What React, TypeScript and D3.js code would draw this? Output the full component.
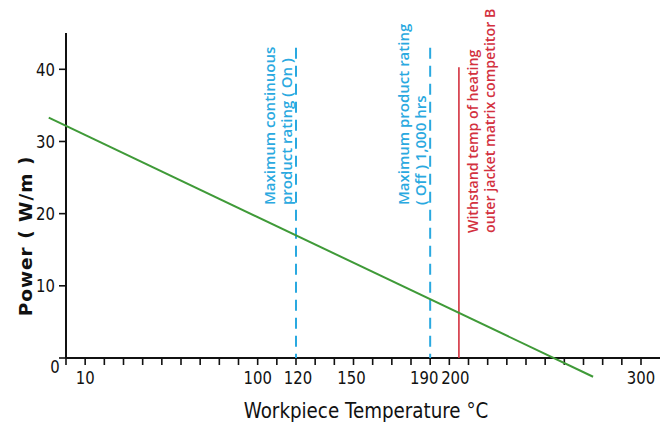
import React from 'react';
import * as d3 from 'd3';

// power curve end points (temperature °C, W/m)
const curveTemps = [-9, 275];
const curvePower = [33.3, -2.6];

const xTickValues = [0, 10, 20, 30, 40, 50, 60, 70, 80, 90, 100, 110, 120, 130, 140, 150, 160, 170, 180, 190, 200, 210, 220, 230, 240, 250, 260, 270, 280, 290, 300];
const xTickLabels = [10, 100, 120, 150, 190, 200, 300];
const yTickValues = [0, 10, 20, 30, 40];

// vertical rating lines
const ratingTemps = [120, 190];
const ratingTop = 43;
const ratingTexts = [
  ['Maximum continuous', 'product rating ( On )'],
  ['Maximum product rating', '( Off ) 1,000 hrs'],
];
const competitorTemp = 205;
const competitorTop = 40.3;
const competitorText = ['Withstand temp of heating', 'outer jacket matrix competitor B'];

const W = 667;
const H = 430;
const BLUE = '#2aa9e0';
const RED = '#d3313f';
const GREEN = '#3f9a38';
const sans = "'DejaVu Sans', sans-serif";
const noteFont = "'Open Sans', 'DejaVu Sans', sans-serif";
const SQ = 0.85; // horizontal squeeze for the condensed look

export default function App() {
  const x = d3.scaleLinear().domain([0, 300]).range([66, 641]);
  const y = d3.scaleLinear().domain([0, 40]).range([358, 69.3]);

  const line = d3.line<number>()
    .x(d => x(curveTemps[d]))
    .y(d => y(curvePower[d]));

  const x0 = x(0);
  const y0 = y(0);

  const labelDx = (v: number) => (v === 200 ? 6 : v === 190 ? -6 : v === 120 ? 2 : v === 150 ? -2 : 0);

  return (
    <svg width={W} height={H} style={{position: 'absolute', left: 0, top: 0, background: '#fff'}}>
      {/* axes */}
      <line x1={x0} x2={660} y1={y0} y2={y0} stroke="#111" strokeWidth={2} />
      <line x1={x0} x2={x0} y1={33} y2={y0} stroke="#111" strokeWidth={2} />
      {xTickValues.map(v => (
        <line key={'xt' + v} x1={x(v)} x2={x(v)} y1={y0} y2={y0 + 7} stroke="#111" strokeWidth={1.6} />
      ))}
      {yTickValues.map(v => (
        <line key={'yt' + v} x1={x0 - 7} x2={x0} y1={y(v)} y2={y(v)} stroke="#111" strokeWidth={1.6} />
      ))}
      {xTickLabels.map(v => (
        <text key={'xl' + v} transform={`translate(${x(v) + labelDx(v)},384) scale(${SQ},1)`} textAnchor="middle"
          fontFamily={sans} fontSize={17.5} fill="#111">{v}</text>
      ))}
      {yTickValues.map(v => (
        <text key={'yl' + v}
          transform={`translate(${v === 0 ? 55 : 55},${v === 0 ? y(v) + 15 : y(v) + 6.5}) scale(${SQ},1)`}
          textAnchor={v === 0 ? 'middle' : 'end'}
          fontFamily={sans} fontSize={17.5} fill="#111">{v}</text>
      ))}

      {/* titles */}
      <text transform={`translate(366,418) scale(${SQ},1)`} textAnchor="middle" fontFamily={sans}
        fontSize={21.5} fill="#111">Workpiece Temperature °C</text>
      <text transform={`translate(32,236) rotate(-90)`} textAnchor="middle" fontFamily={sans}
        fontWeight="bold" fontSize={18.5} letterSpacing={1} fill="#111">Power ( W/m )</text>

      {/* rating lines */}
      {ratingTemps.map((t, i) => (
        <g key={'r' + t}>
          <line x1={x(t)} x2={x(t)} y1={y(ratingTop)} y2={y0} stroke={BLUE} strokeWidth={2} strokeDasharray="11,7" />
          {ratingTexts[i].map((s, j) => (
            <text key={j} transform={`translate(${x(t) - 21 + j * 17},205) rotate(-90)`}
              fontFamily={noteFont} fontWeight={600} fontSize={15} fill={BLUE}>{s}</text>
          ))}
        </g>
      ))}
      <line x1={x(competitorTemp)} x2={x(competitorTemp)} y1={y(competitorTop)} y2={y0} stroke={RED} strokeWidth={1.6} />
      {competitorText.map((s, j) => (
        <text key={'c' + j} transform={`translate(${x(competitorTemp) + 19 + j * 17},233) rotate(-90)`}
          fontFamily={noteFont} fontWeight={600} fontSize={14.2} fill={RED}>{s}</text>
      ))}

      {/* power curve */}
      <path d={line([0, 1]) || ''} fill="none" stroke={GREEN} strokeWidth={2} />
    </svg>
  );
}
